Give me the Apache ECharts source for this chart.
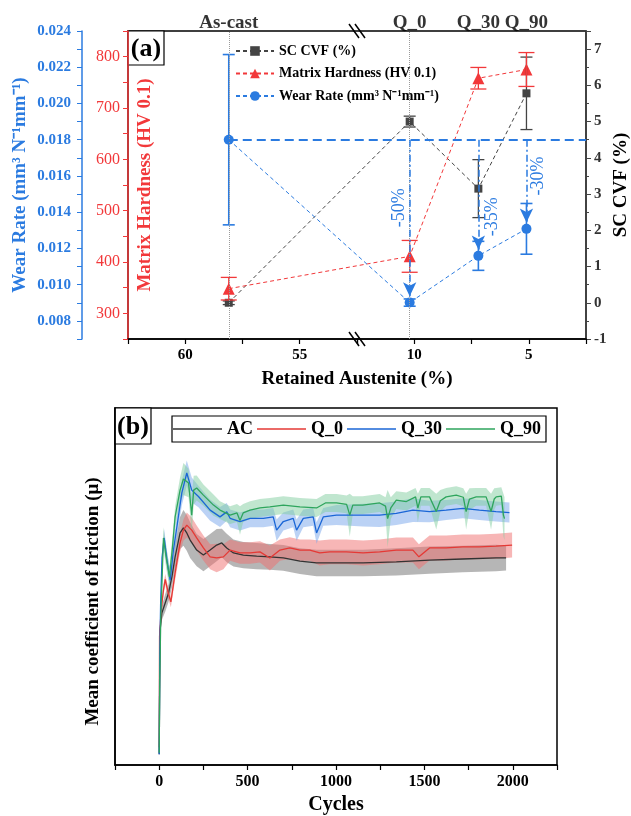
<!DOCTYPE html>
<html><head><meta charset="utf-8">
<script src="https://cdn.jsdelivr.net/npm/echarts@6/dist/echarts.min.js"></script>
<style>html,body{margin:0;padding:0;background:#fff}#c{width:631px;height:816px}</style>
</head><body><div id="c"></div>
<script>
// ---------- panel (a) data ----------
const topNames = ['As-cast', 'Q_0', 'Q_30', 'Q_90'];
const retainedAustenite = [58.1, 10.2, 7.2, 5.1];
const scCvf = [0, 5.0, 3.15, 5.78];
const scCvfErr = [0.05, 0.15, 0.8, 1.0];
const hardness = [348, 411, 758, 775];
const hardnessErr = [22, 31, 21, 33];
const wearRate = [0.0180, 0.00901, 0.01159, 0.01308];
const wearRateErr = [0.0047, 0.0002, 0.0008, 0.0014];
const wearReduction = ['-50%', '-35%', '-30%'];
const reductionLabelY = [0.01424, 0.01375, 0.0160];

// ---------- panel (b) data ----------
const acCycles = [0,5,15,34,53,72,90,118,137,156,175,212,250,288,325,354,382,420,476,551,626,702,796,890,984,1153,1341,1529,1717,1905,1962];
const acMu = [0.03,0.378,0.426,0.454,0.482,0.527,0.583,0.650,0.664,0.650,0.630,0.602,0.588,0.602,0.616,0.622,0.608,0.594,0.588,0.585,0.583,0.580,0.571,0.566,0.566,0.566,0.569,0.574,0.577,0.580,0.580];
const acSd = [0.005,0.02,0.02,0.025,0.025,0.03,0.035,0.045,0.05,0.05,0.05,0.045,0.045,0.045,0.045,0.04,0.04,0.038,0.037,0.037,0.036,0.036,0.036,0.037,0.037,0.037,0.038,0.038,0.037,0.037,0.035];

const q0Cycles = [0,2,11,24,34,52,66,90,118,137,156,184,212,250,288,325,363,401,457,514,570,626,683,739,796,852,908,965,1021,1059,1153,1247,1341,1435,1469,1529,1623,1717,1811,1905,1996];
const q0Mu = [0.05,0.36,0.434,0.49,0.52,0.48,0.457,0.538,0.622,0.658,0.672,0.658,0.636,0.608,0.583,0.580,0.583,0.602,0.594,0.594,0.597,0.580,0.602,0.608,0.602,0.602,0.594,0.597,0.597,0.597,0.594,0.597,0.602,0.602,0.583,0.608,0.608,0.611,0.611,0.613,0.616];
const q0Sd = [0.005,0.015,0.015,0.015,0.015,0.015,0.015,0.02,0.025,0.03,0.035,0.035,0.035,0.035,0.035,0.04,0.035,0.03,0.03,0.03,0.03,0.035,0.03,0.03,0.03,0.03,0.035,0.035,0.035,0.035,0.035,0.035,0.035,0.035,0.035,0.035,0.035,0.035,0.035,0.035,0.035];

const q30Cycles = [0,3,8,16,28,45,62,80,100,128,156,184,222,288,344,382,401,457,514,589,645,664,702,758,777,815,871,890,928,1003,1078,1153,1247,1341,1435,1529,1623,1717,1811,1905,1981];
const q30Mu = [0.03,0.30,0.45,0.58,0.636,0.57,0.518,0.60,0.667,0.762,0.818,0.77,0.752,0.714,0.695,0.709,0.691,0.682,0.691,0.691,0.695,0.658,0.682,0.691,0.658,0.691,0.695,0.650,0.695,0.700,0.700,0.700,0.700,0.705,0.714,0.710,0.714,0.719,0.714,0.710,0.707];
const q30Sd = [0.005,0.02,0.02,0.02,0.025,0.025,0.025,0.025,0.03,0.035,0.035,0.035,0.03,0.03,0.028,0.025,0.025,0.025,0.025,0.025,0.025,0.03,0.025,0.025,0.03,0.025,0.025,0.03,0.025,0.028,0.03,0.032,0.033,0.033,0.033,0.03,0.028,0.028,0.028,0.028,0.028];

const q90Cycles = [0,3,9,24,40,58,75,90,118,137,166,184,195,212,250,307,344,401,440,457,475,514,570,626,702,796,890,940,1003,1060,1078,1095,1151,1247,1280,1292,1310,1341,1398,1450,1463,1480,1529,1567,1590,1623,1680,1720,1736,1755,1793,1849,1877,1895,1906,1935,1947,1953];
const q90Mu = [0.034,0.238,0.415,0.636,0.58,0.527,0.61,0.695,0.77,0.801,0.79,0.70,0.77,0.776,0.756,0.728,0.714,0.70,0.706,0.685,0.706,0.714,0.720,0.723,0.728,0.723,0.720,0.734,0.734,0.730,0.70,0.728,0.728,0.734,0.725,0.69,0.72,0.742,0.738,0.751,0.72,0.751,0.751,0.71,0.74,0.751,0.756,0.75,0.71,0.745,0.751,0.751,0.71,0.745,0.751,0.753,0.70,0.69];
const q90Sd = [0.005,0.02,0.02,0.03,0.03,0.03,0.03,0.03,0.035,0.045,0.04,0.05,0.04,0.035,0.03,0.03,0.025,0.025,0.025,0.04,0.025,0.025,0.025,0.025,0.025,0.025,0.025,0.025,0.025,0.025,0.06,0.025,0.025,0.025,0.025,0.08,0.03,0.025,0.025,0.025,0.04,0.025,0.025,0.05,0.03,0.025,0.025,0.025,0.05,0.03,0.025,0.025,0.05,0.03,0.025,0.025,0.06,0.06];

// ---------- styling ----------
const FONT = '"Liberation Serif", "Times New Roman", serif';
const RED = '#f2383a', BLUE = '#2b7be0', GRAY = '#444444';
const cAC = '#333333', cQ0 = '#e53935', cQ30 = '#1a66d6', cQ90 = '#2ea55d';
const bAC = 'rgba(110,110,110,0.5)', bQ0 = 'rgba(240,110,110,0.5)', bQ30 = 'rgba(120,165,235,0.5)', bQ90 = 'rgba(130,205,160,0.5)';

const zip = (xs, ys) => xs.map((x, i) => [x, ys[i]]);

function errorBars(color, capW, lineW) {
  return function (params, api) {
    const x = api.value(0);
    const lo = api.coord([x, api.value(1)]);
    const hi = api.coord([x, api.value(2)]);
    const st = { stroke: color, lineWidth: lineW, fill: 'none' };
    return { type: 'group', children: [
      { type: 'line', shape: { x1: lo[0], y1: lo[1], x2: hi[0], y2: hi[1] }, style: st },
      { type: 'line', shape: { x1: lo[0] - capW / 2, y1: lo[1], x2: lo[0] + capW / 2, y2: lo[1] }, style: st },
      { type: 'line', shape: { x1: hi[0] - capW / 2, y1: hi[1], x2: hi[0] + capW / 2, y2: hi[1] }, style: st }
    ]};
  };
}
const errData = (v, e) => retainedAustenite.map((x, i) => [x, v[i] - e[i], v[i] + e[i]]);

function bandSeries(key, cycles, mu, sd, color) {
  return { type: 'custom', name: key + '_band', xAxisIndex: 1, yAxisIndex: 3, silent: true, z: 1,
    data: [[cycles[0], mu[0]]], encode: { x: 0, y: 1 },
    renderItem: function (params, api) {
      const pts = [];
      for (let i = 0; i < cycles.length; i++) pts.push(api.coord([cycles[i], mu[i] + sd[i]]));
      for (let i = cycles.length - 1; i >= 0; i--) pts.push(api.coord([cycles[i], mu[i] - sd[i]]));
      return { type: 'polygon', shape: { points: pts }, style: { fill: color } };
    } };
}
function meanSeries(name, cycles, mu, color) {
  return { type: 'line', name: name, xAxisIndex: 1, yAxisIndex: 3, symbol: 'none', showSymbol: false,
    lineStyle: { color: color, width: 1.3 }, itemStyle: { color: color }, data: zip(cycles, mu), z: 2 };
}

const wearMarkData = [
  [{ coord: [retainedAustenite[0], wearRate[0]], symbol: 'none' },
   { coord: [2.5, wearRate[0]], symbol: 'none', lineStyle: { type: [9, 5], width: 2, color: BLUE } }]
];
for (let i = 1; i < 4; i++) {
  wearMarkData.push([
    { coord: [retainedAustenite[i], wearRate[0]], symbol: 'none' },
    { coord: [retainedAustenite[i], wearRate[i] + 0.00035], symbol: 'arrow', symbolSize: [10, 14],
      lineStyle: { type: [7, 3, 2, 3], width: 1.5, color: BLUE } }
  ]);
}

const axisText = { fontFamily: FONT, fontWeight: 'bold', color: '#000' };

const option = {
  animation: false,
  backgroundColor: '#fff',
  textStyle: { fontFamily: FONT },
  grid: [
    { left: 128, top: 31, width: 458, height: 308, show: true, borderColor: '#000', borderWidth: 1.5,
      containLabel: false, outerBoundsMode: 'none' },
    { left: 115, top: 408, width: 442, height: 357, show: true, borderColor: '#000', borderWidth: 1.5,
      containLabel: false, outerBoundsMode: 'none' }
  ],
  xAxis: [
    { gridIndex: 0, type: 'value', min: 2.5, max: 62.5, interval: 2.5, inverse: true,
      breaks: [{ start: 12.5, end: 52.5, gap: 1e-6 }], breakArea: { show: false },
      axisLine: { onZero: false, lineStyle: { color: '#000', width: 1.5 } },
      axisTick: { length: 5, lineStyle: { color: '#000', width: 1.2 } },
      axisLabel: { ...axisText, fontSize: 15, margin: 9, formatter: v => (Math.abs(v % 5) < 1e-9 ? String(v) : '') },
      splitLine: { show: false },
      name: 'Retained Austenite (%)', nameLocation: 'middle', nameGap: 31, nameMoveOverlap: false,
      nameTextStyle: { ...axisText, fontSize: 19 } },
    { gridIndex: 1, type: 'value', min: -250, max: 2250, interval: 250,
      axisLine: { onZero: false, lineStyle: { color: '#000', width: 1.5 } },
      axisTick: { length: 5, lineStyle: { color: '#000', width: 1.2 } },
      axisLabel: { ...axisText, fontSize: 16, margin: 9, formatter: v => (v % 500 === 0 ? String(v) : '') },
      splitLine: { show: false },
      name: 'Cycles', nameLocation: 'middle', nameGap: 30, nameMoveOverlap: false,
      nameTextStyle: { ...axisText, fontSize: 20 } }
  ],
  yAxis: [
    { gridIndex: 0, type: 'value', position: 'left', min: 250, max: 850, interval: 50,
      axisLine: { show: true, onZero: false, lineStyle: { color: RED, width: 1.5 } },
      axisTick: { show: true, length: 5, lineStyle: { color: RED } },
      axisLabel: { fontFamily: FONT, fontSize: 16, color: RED, margin: 8, formatter: v => (v % 100 === 0 ? String(v) : '') },
      splitLine: { show: false },
      name: 'Matrix Hardness (HV 0.1)', nameLocation: 'middle', nameGap: -27, nameRotate: 90, nameMoveOverlap: false,
      nameTextStyle: { fontFamily: FONT, fontWeight: 'bold', fontSize: 19, color: RED } },
    { gridIndex: 0, type: 'value', position: 'left', offset: 46, min: 0.007, max: 0.024, interval: 0.001,
      axisLine: { show: true, onZero: false, lineStyle: { color: BLUE, width: 1.5 } },
      axisTick: { show: true, length: 5, lineStyle: { color: BLUE } },
      axisLabel: { fontFamily: FONT, fontWeight: 'bold', fontSize: 15, color: BLUE, margin: 11,
        formatter: v => { const k = Math.round(v * 1000); return (k % 2 === 0 && Math.abs(v * 1000 - k) < 1e-6) ? (k / 1000).toFixed(3) : ''; } },
      splitLine: { show: false },
      name: 'Wear Rate (mm³ N⁻¹mm⁻¹)', nameLocation: 'middle', nameGap: 52, nameRotate: 90, nameMoveOverlap: false,
      nameTextStyle: { fontFamily: FONT, fontWeight: 'bold', fontSize: 19, color: BLUE } },
    { gridIndex: 0, type: 'value', position: 'right', min: -1, max: 7.5, interval: 1,
      axisLine: { show: true, onZero: false, lineStyle: { color: GRAY, width: 1.5 } },
      axisTick: { show: true, length: 5, lineStyle: { color: GRAY } },
      minorTick: { show: true, splitNumber: 2, length: 3, lineStyle: { color: GRAY } },
      axisLabel: { fontFamily: FONT, fontWeight: 'bold', fontSize: 15, color: '#333', margin: 8,
        formatter: v => (Math.abs(v - Math.round(v)) < 1e-6 ? String(Math.round(v)) : '') },
      splitLine: { show: false },
      name: 'SC CVF (%)', nameLocation: 'middle', nameGap: 26, nameRotate: 90, nameMoveOverlap: false,
      nameTextStyle: { fontFamily: FONT, fontWeight: 'bold', fontSize: 19, color: '#000' } },
    { gridIndex: 1, type: 'value', min: 0, max: 1,
      axisLine: { show: true, onZero: false, lineStyle: { color: '#000', width: 1.5 } },
      axisTick: { show: false }, axisLabel: { show: false }, splitLine: { show: false },
      name: 'Mean coefficient of friction (μ)', nameLocation: 'middle', nameGap: 12, nameRotate: 90, nameMoveOverlap: false,
      nameTextStyle: { ...axisText, fontSize: 19, padding: [0, 30, 0, 0] } }
  ],
  legend: [
    { data: ['SC CVF (%)', 'Matrix Hardness (HV 0.1)', 'Wear Rate (mm³ N⁻¹mm⁻¹)'],
      orient: 'vertical', left: 235, top: 44, padding: 0, itemWidth: 38, itemHeight: 12, itemGap: 8.5,
      selectedMode: false, textStyle: { ...axisText, fontSize: 14 } },
    { data: ['AC', 'Q_0', 'Q_30', 'Q_90'], left: 172, top: 416, padding: [4, 5, 4, 1],
      icon: 'rect', itemWidth: 49, itemHeight: 1.4, itemGap: 4, borderColor: '#000', borderWidth: 1.2,
      selectedMode: false, textStyle: { ...axisText, fontSize: 18 } }
  ],
  series: [
    { type: 'line', name: 'SC CVF (%)', xAxisIndex: 0, yAxisIndex: 2, data: zip(retainedAustenite, scCvf),
      symbol: 'rect', symbolSize: 8, itemStyle: { color: GRAY }, lineStyle: { color: GRAY, type: [4, 3], width: 1 }, z: 3,
      markLine: { silent: true, symbol: 'none', label: { show: false },
        lineStyle: { color: '#9a9a9a', type: 'dotted', width: 1 },
        data: [{ xAxis: retainedAustenite[0] }, { xAxis: retainedAustenite[1] }] } },
    { type: 'line', name: 'Matrix Hardness (HV 0.1)', xAxisIndex: 0, yAxisIndex: 0, data: zip(retainedAustenite, hardness),
      symbol: 'triangle', symbolSize: 12, itemStyle: { color: RED }, lineStyle: { color: RED, type: [4, 3], width: 1 }, z: 3 },
    { type: 'line', name: 'Wear Rate (mm³ N⁻¹mm⁻¹)', xAxisIndex: 0, yAxisIndex: 1, data: zip(retainedAustenite, wearRate),
      symbol: 'circle', symbolSize: 10, itemStyle: { color: BLUE }, lineStyle: { color: BLUE, type: [4, 3], width: 1 }, z: 3,
      markLine: { silent: true, label: { show: false }, lineStyle: { color: BLUE }, data: wearMarkData } },
    { type: 'custom', name: 'scErr', xAxisIndex: 0, yAxisIndex: 2, data: errData(scCvf, scCvfErr),
      encode: { x: 0, y: [1, 2] }, renderItem: errorBars(GRAY, 12, 1.3), z: 4, silent: true },
    { type: 'custom', name: 'hvErr', xAxisIndex: 0, yAxisIndex: 0, data: errData(hardness, hardnessErr),
      encode: { x: 0, y: [1, 2] }, renderItem: errorBars(RED, 16, 1.3), z: 4, silent: true },
    { type: 'custom', name: 'wrErr', xAxisIndex: 0, yAxisIndex: 1, data: errData(wearRate, wearRateErr),
      encode: { x: 0, y: [1, 2] }, renderItem: errorBars(BLUE, 12, 1.6), z: 4, silent: true },
    { type: 'scatter', name: 'names', xAxisIndex: 0, yAxisIndex: 2, clip: false, silent: true,
      data: retainedAustenite.map(x => [x, 7.5]), symbolSize: 1, itemStyle: { color: 'transparent' },
      label: { show: true, position: 'top', distance: -2, formatter: p => topNames[p.dataIndex],
        fontFamily: FONT, fontWeight: 'bold', fontSize: 19, color: '#000' } },
    bandSeries('ac', acCycles, acMu, acSd, bAC),
    bandSeries('q0', q0Cycles, q0Mu, q0Sd, bQ0),
    bandSeries('q30', q30Cycles, q30Mu, q30Sd, bQ30),
    bandSeries('q90', q90Cycles, q90Mu, q90Sd, bQ90),
    meanSeries('AC', acCycles, acMu, cAC),
    meanSeries('Q_0', q0Cycles, q0Mu, cQ0),
    meanSeries('Q_30', q30Cycles, q30Mu, cQ30),
    meanSeries('Q_90', q90Cycles, q90Mu, cQ90)
  ]
};

const chart = echarts.init(document.getElementById('c'), null, { renderer: 'canvas' });
chart.setOption(option);

// annotations
const graphics = [];
function panelTag(x, y, w, h, txt) {
  graphics.push({ type: 'group', z: 100, children: [
    { type: 'rect', shape: { x: x, y: y, width: w, height: h }, style: { fill: '#fff', stroke: '#000', lineWidth: 1.2 } },
    { type: 'text', x: x + w / 2, y: y + h / 2 + 1, style: { text: txt, fontFamily: FONT, fontWeight: 'bold', fontSize: 26, fill: '#000', align: 'center', verticalAlign: 'middle' } }
  ]});
}
panelTag(128, 31, 36, 34, '(a)');
panelTag(115, 408, 36, 36, '(b)');
function breakMark(cx, cy) {
  [-3, 3].forEach(d => graphics.push({ type: 'line', z: 100,
    shape: { x1: cx + d - 5, y1: cy - 7, x2: cx + d + 5, y2: cy + 7 }, style: { stroke: '#000', lineWidth: 1.5 } }));
}
breakMark(357, 339);
breakMark(357, 31);
const pctDx = [-10, 14, 12];
for (let i = 0; i < 3; i++) {
  const p = chart.convertToPixel({ xAxisIndex: 0, yAxisIndex: 1 }, [retainedAustenite[i + 1], reductionLabelY[i]]);
  graphics.push({ type: 'text', z: 100, x: p[0] + pctDx[i], y: p[1], rotation: Math.PI / 2,
    style: { text: wearReduction[i], fontFamily: FONT, fontSize: 18, fill: BLUE, align: 'center', verticalAlign: 'middle' } });
}
chart.setOption({ graphic: graphics });
</script>
</body></html>
